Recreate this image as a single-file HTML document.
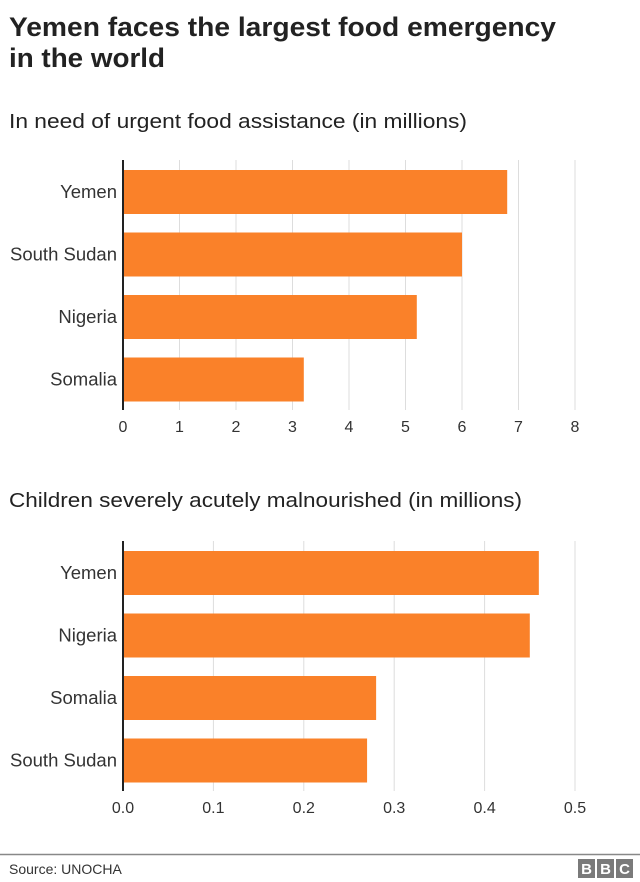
<!DOCTYPE html>
<html><head><meta charset="utf-8"><style>
body{margin:0;background:#fff;font-family:"Liberation Sans",Arial,sans-serif;}
svg{display:block}
</style></head><body>
<svg id="c" width="640" height="882" xmlns="http://www.w3.org/2000/svg" font-family="Liberation Sans, Arial, sans-serif">
<text x="9" y="36" font-size="27" font-weight="bold" fill="#222" textLength="547" lengthAdjust="spacingAndGlyphs">Yemen faces the largest food emergency</text>
<text x="9" y="67" font-size="27" font-weight="bold" fill="#222" textLength="156" lengthAdjust="spacingAndGlyphs">in the world</text>
<text x="9" y="128" font-size="20" fill="#222" textLength="458" lengthAdjust="spacingAndGlyphs">In need of urgent food assistance (in millions)</text>
<text x="9" y="507" font-size="20" fill="#222" textLength="513" lengthAdjust="spacingAndGlyphs">Children severely acutely malnourished (in millions)</text>
<g id="g1"></g><g id="g2"></g>
<line x1="0" y1="854.5" x2="640" y2="854.5" stroke="#888" stroke-width="1.5"/>
<text x="9" y="874" font-size="14" fill="#333">Source: UNOCHA</text>
<g>
<rect x="578" y="859" width="17" height="19" fill="#7a7a7a"/><rect x="597" y="859" width="17" height="19" fill="#7a7a7a"/><rect x="616" y="859" width="17" height="19" fill="#7a7a7a"/>
<text x="586.5" y="874" font-size="15" font-weight="bold" fill="#fff" text-anchor="middle">B</text>
<text x="605.5" y="874" font-size="15" font-weight="bold" fill="#fff" text-anchor="middle">B</text>
<text x="624.5" y="874" font-size="15" font-weight="bold" fill="#fff" text-anchor="middle">C</text>
</g>
</svg>
<script>
const cats1=["Yemen","South Sudan","Nigeria","Somalia"];
const vals1=[6.8,6.0,5.2,3.2];
const ticks1=["0","1","2","3","4","5","6","7","8"];
const tickVals1=[0,1,2,3,4,5,6,7,8];
const cats2=["Yemen","Nigeria","Somalia","South Sudan"];
const vals2=[0.46,0.45,0.28,0.27];
const ticks2=["0.0","0.1","0.2","0.3","0.4","0.5"];
const tickVals2=[0,0.1,0.2,0.3,0.4,0.5];
const NS="http://www.w3.org/2000/svg";
function mk(t,a,p){const e=document.createElementNS(NS,t);for(const k in a)e.setAttribute(k,a[k]);p.appendChild(e);return e;}
function draw(gid,cats,vals,ticks,tv,max,top,prefix){
 const g=document.getElementById(gid);
 const x=v=>123+v/max*452;
 const band=62.5, bh=44;
 const bottom=top+band*cats.length;
 tv.forEach((v,i)=>{
  if(v>0){const l=mk("line",{x1:x(v),x2:x(v),y1:top,y2:bottom,stroke:"#ddd","stroke-width":1},g);
  
  }
  const t=mk("text",{x:x(v),y:bottom+22,"font-size":16,fill:"#333","text-anchor":"middle"},g);
  t.textContent=ticks[i];
  
  
 });
 cats.forEach((c,i)=>{
  const y=top+10+i*band;
  const r=mk("rect",{x:x(0),y:y,width:x(vals[i])-x(0),height:bh,fill:"#fa8129"},g);
  
  
  const t=mk("text",{x:117,y:y+bh/2+6,"font-size":18.5,fill:"#333","text-anchor":"end"},g);
  t.textContent=c;
  
  
 });
 const a=mk("line",{x1:123,x2:123,y1:top,y2:bottom,stroke:"#222","stroke-width":2},g);
 
 
}
draw("g1",cats1,vals1,ticks1,tickVals1,8,160,"chart1");
draw("g2",cats2,vals2,ticks2,tickVals2,0.5,541,"chart2");
</script>
</body></html>
